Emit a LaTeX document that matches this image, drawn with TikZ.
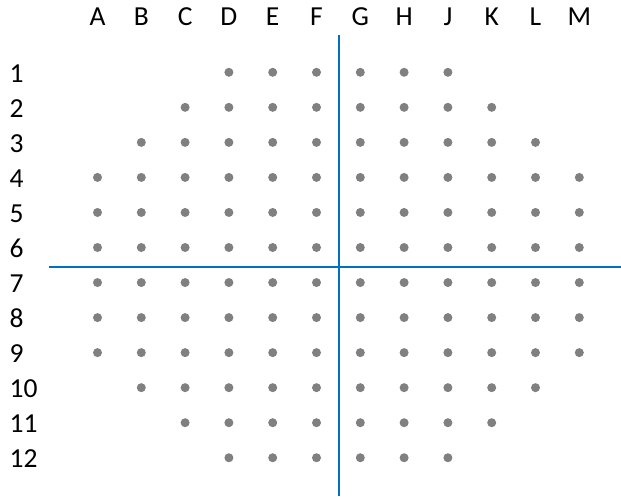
\documentclass[tikz,border=0pt]{standalone}
\usepackage{fontspec}
\setmainfont{Carlito}
\definecolor{dotgray}{RGB}{128,128,128}
\definecolor{lineblue}{RGB}{0,112,192}
\begin{document}
\begin{tikzpicture}[x=1pt,y=-1pt,
  dotmark/.style={circle,fill=dotgray,inner sep=0pt,minimum size=9pt},
  collabel/.style={font=\fontsize{27.5}{32}\selectfont,anchor=base,inner sep=0pt},
  rowlabel/.style={font=\fontsize{27.5}{32}\selectfont,anchor=base west,inner sep=0pt},
  axisline/.style={draw=lineblue,line width=2.2pt}]
\useasboundingbox (0,0) rectangle (621,496);
% column letters
\foreach \L [count=\c] in {A,B,C,D,E,F,G,H,J,K,L,M}
  \node[collabel] (col-\c) at ({97.5+43.8*(\c-1)},25.5) {\L};
% row numbers
\foreach \r in {1,...,12}
  \node[rowlabel] (row-\r) at (9.5,{72.3+35.04*(\r-1)+10}) {\r};
% dots
\foreach \r/\f [evaluate=\f as \l using int(13-\f)] in {1/4,2/3,3/2,4/1,5/1,6/1,7/1,8/1,9/1,10/2,11/3,12/4}
  \foreach \c in {\f,...,\l}
    \node[dotmark] (d-\r-\c) at ({97.5+43.8*(\c-1)},{72.3+35.04*(\r-1)}) {};
% axis lines
\coordinate (vtop) at (339.3,35);
\coordinate (vbot) at (339.3,496);
\coordinate (hleft) at (49.3,267.2);
\coordinate (hright) at (621,267.2);
\draw[axisline] (vtop) -- (vbot);
\draw[axisline] (hleft) -- (hright);
\end{tikzpicture}
\end{document}
